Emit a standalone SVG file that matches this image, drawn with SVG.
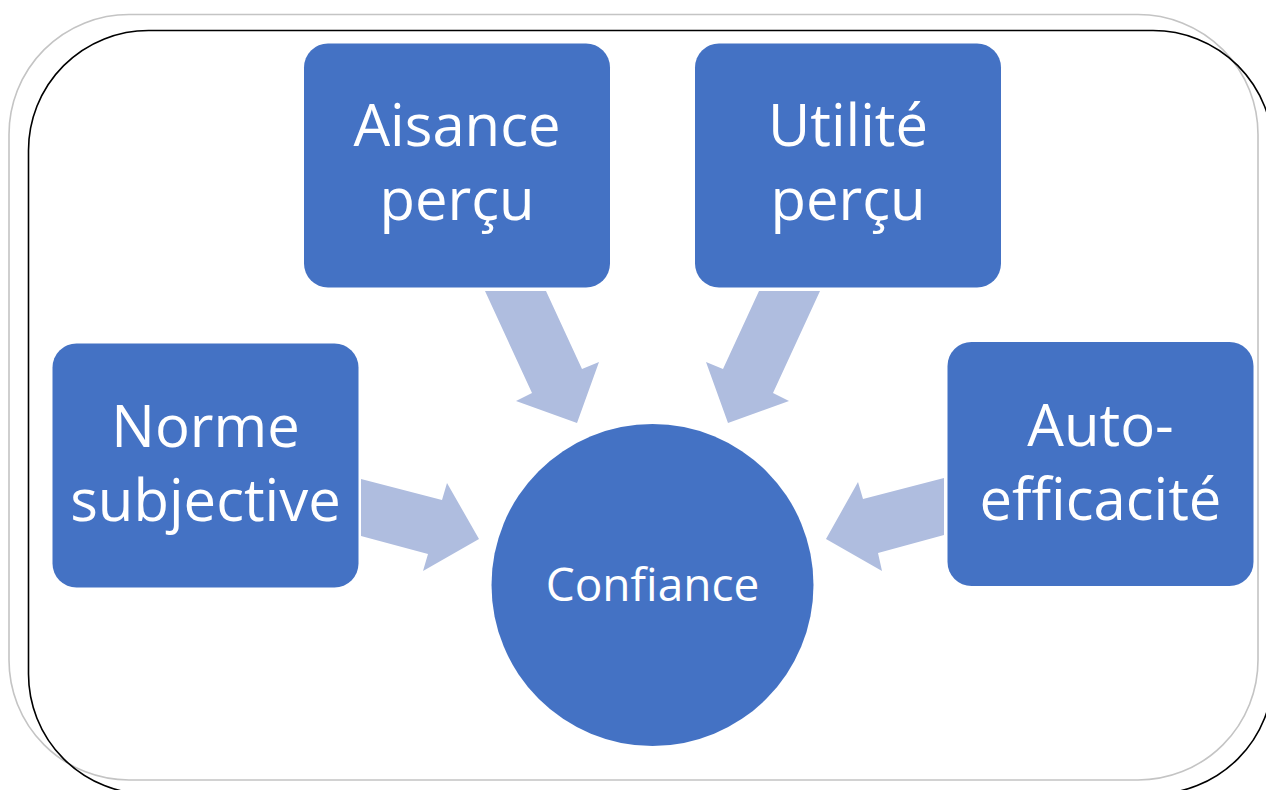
<svg xmlns="http://www.w3.org/2000/svg" width="1266" height="790" viewBox="0 0 1266 790">
  <style>
    .box { fill: #4472C4; }
    .arrow { fill: #AFBDDF; }
    .label { fill: #FFFFFF; font-family: "Open Sans", "Liberation Sans", sans-serif; text-anchor: middle; }
    .big { font-size: 58px; }
    .small { font-size: 46px; }
  </style>
  <rect width="1266" height="790" fill="#FFFFFF"/>

  <!-- outer frames -->
  <g id="frame">
    <rect x="9" y="14.5" width="1249" height="765.5" rx="120" ry="120" fill="none" stroke="#C4C4C4" stroke-width="1.6"/>
    <rect x="28.5" y="30.5" width="1244.5" height="763.5" rx="120" ry="120" fill="none" stroke="#000000" stroke-width="1.6"/>
  </g>

  <!-- block arrows pointing at the centre -->
  <g id="connectors">
    <polygon class="arrow" points="485,291 546,291 582,369 599,362 577,423 516,401 532,393"/>
    <polygon class="arrow" points="820,291 759,291 723,369 706,362 728,423 789,401 773,393"/>
    <polygon class="arrow" points="361,479 442,500 447,483 479,539 423,571 428,554 361,536"/>
    <polygon class="arrow" points="944,478 863,499 858,482 826,539 882,571 878,553 944,535"/>
  </g>

  <g id="node-aisance">
    <rect class="box" x="304" y="43.5" width="306" height="244" rx="24" ry="24"/>
    <text class="label big" x="457" y="146">Aisance</text>
    <text class="label big" x="457" y="220">perçu</text>
  </g>

  <g id="node-utilite">
    <rect class="box" x="695" y="43.5" width="306" height="244" rx="24" ry="24"/>
    <text class="label big" x="848" y="146">Utilité</text>
    <text class="label big" x="848" y="220">perçu</text>
  </g>

  <g id="node-norme">
    <rect class="box" x="52.5" y="343.5" width="306" height="244" rx="24" ry="24"/>
    <text class="label big" x="205.5" y="447">Norme</text>
    <text class="label big" x="205.5" y="521">subjective</text>
  </g>

  <g id="node-auto">
    <rect class="box" x="947.5" y="342" width="306" height="244" rx="24" ry="24"/>
    <text class="label big" x="1100.5" y="446">Auto-</text>
    <text class="label big" x="1100.5" y="520">efficacité</text>
  </g>

  <g id="node-confiance">
    <circle class="box" cx="652.5" cy="585" r="161"/>
    <text class="label small" x="652.5" y="601">Confiance</text>
  </g>
</svg>
